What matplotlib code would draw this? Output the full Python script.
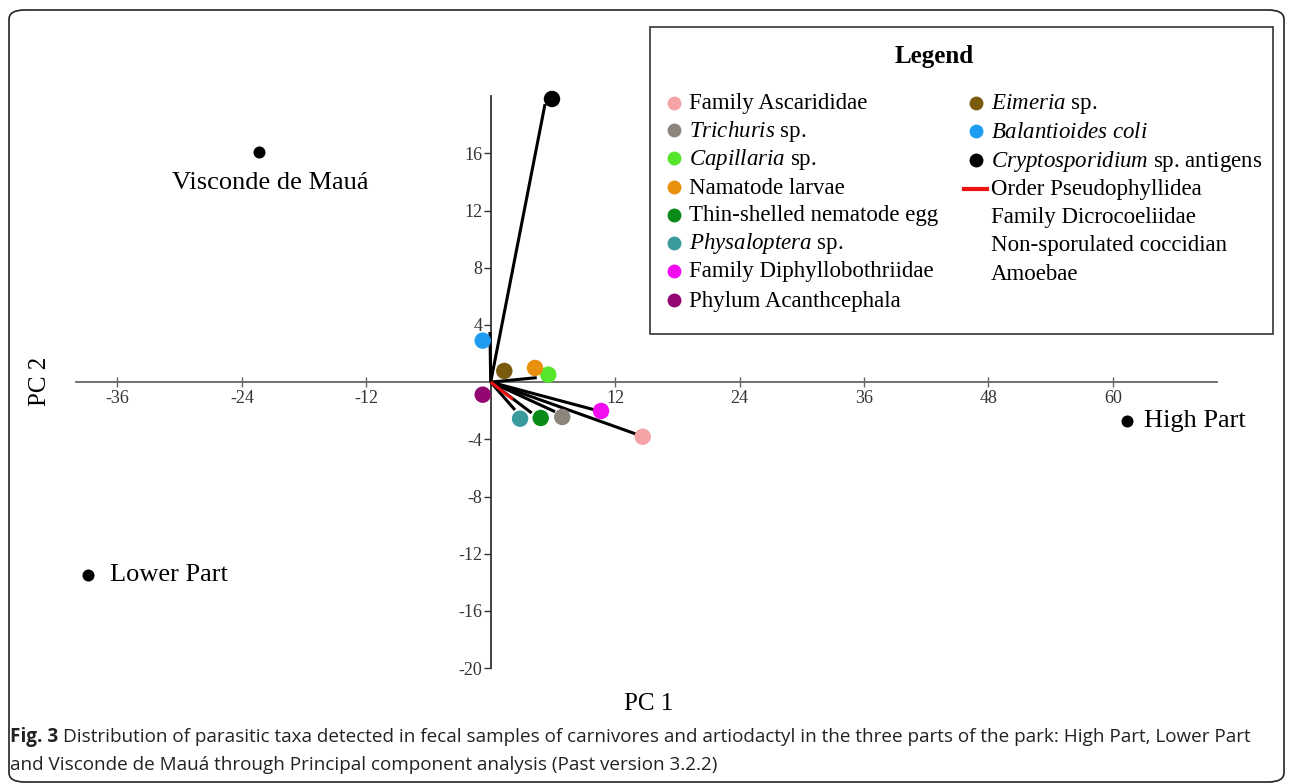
import matplotlib.pyplot as plt
from matplotlib.patches import Rectangle, FancyBboxPatch
from matplotlib.lines import Line2D

plt.rcParams['mathtext.fontset'] = 'custom'
plt.rcParams['mathtext.rm'] = 'Liberation Serif'
plt.rcParams['mathtext.it'] = 'Liberation Serif:italic'
plt.rcParams['axes.unicode_minus'] = False

SERIF = 'Liberation Serif'

# sample scores (PC1, PC2)
sites = ["Visconde de Mauá", "High Part", "Lower Part"]
site_x = [-22.3, 61.4, -38.8]
site_y = [16.1, -2.7, -13.5]

# biplot vectors (loadings)
vec_names = ["Cryptosporidium", "Balantioides", "Capillaria", "Physaloptera",
             "Thin-shelled", "Trichuris", "Diphyllobothriidae", "Ascarididae",
             "Pseudophyllidea"]
vec_x = [5.24, -0.07, 4.44, 2.34, 3.95, 6.20, 10.06, 14.08, 2.12]
vec_y = [19.44, 3.50, 0.31, -1.95, -2.16, -2.07, -1.95, -3.65, -1.20]
vec_col = ["black"] * 8 + ["#ee1111"]

# taxon markers
taxa = ["Ascarididae", "Trichuris", "Capillaria", "Namatode larvae", "Thin-shelled",
        "Physaloptera", "Diphyllobothriidae", "Acanthcephala", "Eimeria",
        "Balantioides", "Cryptosporidium"]
dot_x = [14.66, 6.90, 5.55, 4.27, 4.82, 2.83, 10.64, -0.77, 1.31, -0.77, 5.91]
dot_y = [-3.82, -2.44, 0.52, 0.99, -2.51, -2.56, -2.02, -0.88, 0.78, 2.90, 19.80]
dot_col = ["#f5a3a6", "#8c857c", "#55e62c", "#e8900e", "#0a8a16", "#3a9a9c",
           "#f20cf0", "#920870", "#7a5a0c", "#1e9cf2", "black"]

legend_left = ["Family Ascarididae", r"$\mathit{Trichuris}$ sp.", r"$\mathit{Capillaria}$ sp.",
               "Namatode larvae", "Thin-shelled nematode egg", r"$\mathit{Physaloptera}$ sp.",
               "Family Diphyllobothriidae", "Phylum Acanthcephala"]
legend_left_col = dot_col[:8]
legend_right = [r"$\mathit{Eimeria}$ sp.", r"$\mathit{Balantioides\ coli}$",
                r"$\mathit{Cryptosporidium}$ sp. antigens", "Order Pseudophyllidea",
                "Family Dicrocoeliidae", "Non-sporulated coccidian", "Amoebae"]
legend_right_col = dot_col[8:] + ["line", None, None, None]

W, H = 1292, 784
fig = plt.figure(figsize=(W / 100, H / 100), dpi=100)

# axes over the whole figure; origin at pixel (490.7, 382.1)
ox, oy, sx, sy = 490.7, 382.1, 10.37, 14.3
ax = fig.add_axes([0, 0, 1, 1])
ax.set_xlim(-ox / sx, (W - ox) / sx)
ax.set_ylim(-(H - oy) / sy, oy / sy)
ax.patch.set_alpha(0)

for s in ['top', 'right']:
    ax.spines[s].set_visible(False)
ax.spines['left'].set_position(('data', 0))
ax.spines['bottom'].set_position(('data', 0))
ax.spines['left'].set_bounds(-20, 20)
ax.spines['bottom'].set_bounds(-40, 70)
ax.spines['left'].set_color('#333333')
ax.spines['bottom'].set_color('#666666')
ax.spines['left'].set_linewidth(1.3)
ax.spines['bottom'].set_linewidth(1.3)

ax.set_xticks([-36, -24, -12, 12, 24, 36, 48, 60])
ax.set_yticks([-20, -16, -12, -8, -4, 4, 8, 12, 16])
ax.tick_params(axis='x', direction='inout', length=7, width=1, colors='#666666',
               labelcolor='#333333', labelsize=13, pad=2)
ax.tick_params(axis='y', direction='out', length=5, width=1, colors='#333333',
               labelcolor='#333333', labelsize=13, pad=1)
for lab in ax.get_xticklabels() + ax.get_yticklabels():
    lab.set_fontfamily(SERIF)

# vectors (red one drawn on top)
for x, y, c in zip(vec_x, vec_y, vec_col):
    z = 3.5 if c != "black" else 3
    ax.plot([0, x], [0, y], color=c, lw=2.2, solid_capstyle='butt', zorder=z)

# taxon dots
ax.scatter(dot_x, dot_y, s=140, c=dot_col, zorder=4, linewidths=0)

# sites
ax.scatter(site_x, site_y, s=75, c='black', zorder=4, linewidths=0)
ax.text(site_x[0] + 1.0, site_y[0] - 2.2, sites[0], ha='center', va='center',
        fontsize=19, family=SERIF)
ax.text(site_x[1] + 1.6, site_y[1], sites[1], ha='left', va='center',
        fontsize=19, family=SERIF)
ax.text(site_x[2] + 2.1, site_y[2], sites[2], ha='left', va='center',
        fontsize=19, family=SERIF)


def fx(px):
    return px / W


def fy(py):
    return 1 - py / H


# axis titles
fig.text(fx(649), fy(704), "PC 1", ha='center', va='center', fontsize=18, family=SERIF)
fig.text(fx(40), fy(381), "PC 2", ha='center', va='center', fontsize=18, family=SERIF,
         rotation=90)

# legend box
fig.add_artist(Rectangle((fx(650), fy(334)), fx(1273) - fx(650), fy(27) - fy(334),
                         transform=fig.transFigure, fill=False, ec='#333333', lw=1.2))
fig.text(fx(934), fy(57), "Legend", ha='center', va='center', fontsize=18,
         fontweight='bold', family=SERIF)

left_rows = [103, 130, 158, 187, 215, 243, 271, 300]
right_rows = [103, 131, 160, 189, 217, 245, 273]
for lab, col, r in zip(legend_left, legend_left_col, left_rows):
    fig.add_artist(Line2D([fx(674)], [fy(r)], marker='o', ms=10, color=col, mew=0,
                          transform=fig.transFigure))
    fig.text(fx(689), fy(r + 1), lab, ha='left', va='center', fontsize=16.5, family=SERIF)
for lab, col, r in zip(legend_right, legend_right_col, right_rows):
    if col == "line":
        fig.add_artist(Line2D([fx(964), fx(987)], [fy(r), fy(r)], color='#ee1111', lw=3,
                              transform=fig.transFigure))
    elif col is not None:
        fig.add_artist(Line2D([fx(976)], [fy(r)], marker='o', ms=10, color=col, mew=0,
                              transform=fig.transFigure))
    fig.text(fx(991), fy(r + 1), lab, ha='left', va='center', fontsize=16.5, family=SERIF)

# outer rounded frame
fig.add_artist(FancyBboxPatch((fx(9), fy(782)), fx(1284) - fx(9), fy(10) - fy(782),
                              boxstyle='round,pad=0,rounding_size=0.012',
                              transform=fig.transFigure, fill=False, ec='#222222', lw=1.2))

# caption
cap_font = 'Open Sans'
renderer = fig.canvas.get_renderer()
t1 = fig.text(fx(10), fy(737), "Fig. 3", ha='left', va='center', fontsize=13.6,
              fontweight='bold', family=cap_font, color='#222222')
bb = t1.get_window_extent(renderer=renderer)
fig.text((bb.x1 + 5) / W, fy(737),
         "Distribution of parasitic taxa detected in fecal samples of carnivores and "
         "artiodactyl in the three parts of the park: High Part, Lower Part",
         ha='left', va='center', fontsize=13.6, family=cap_font, color='#222222')
fig.text(fx(10), fy(765),
         "and Visconde de Mauá through Principal component analysis (Past version 3.2.2)",
         ha='left', va='center', fontsize=13.6, family=cap_font, color='#222222')

fig.savefig("out.png", dpi=100)
